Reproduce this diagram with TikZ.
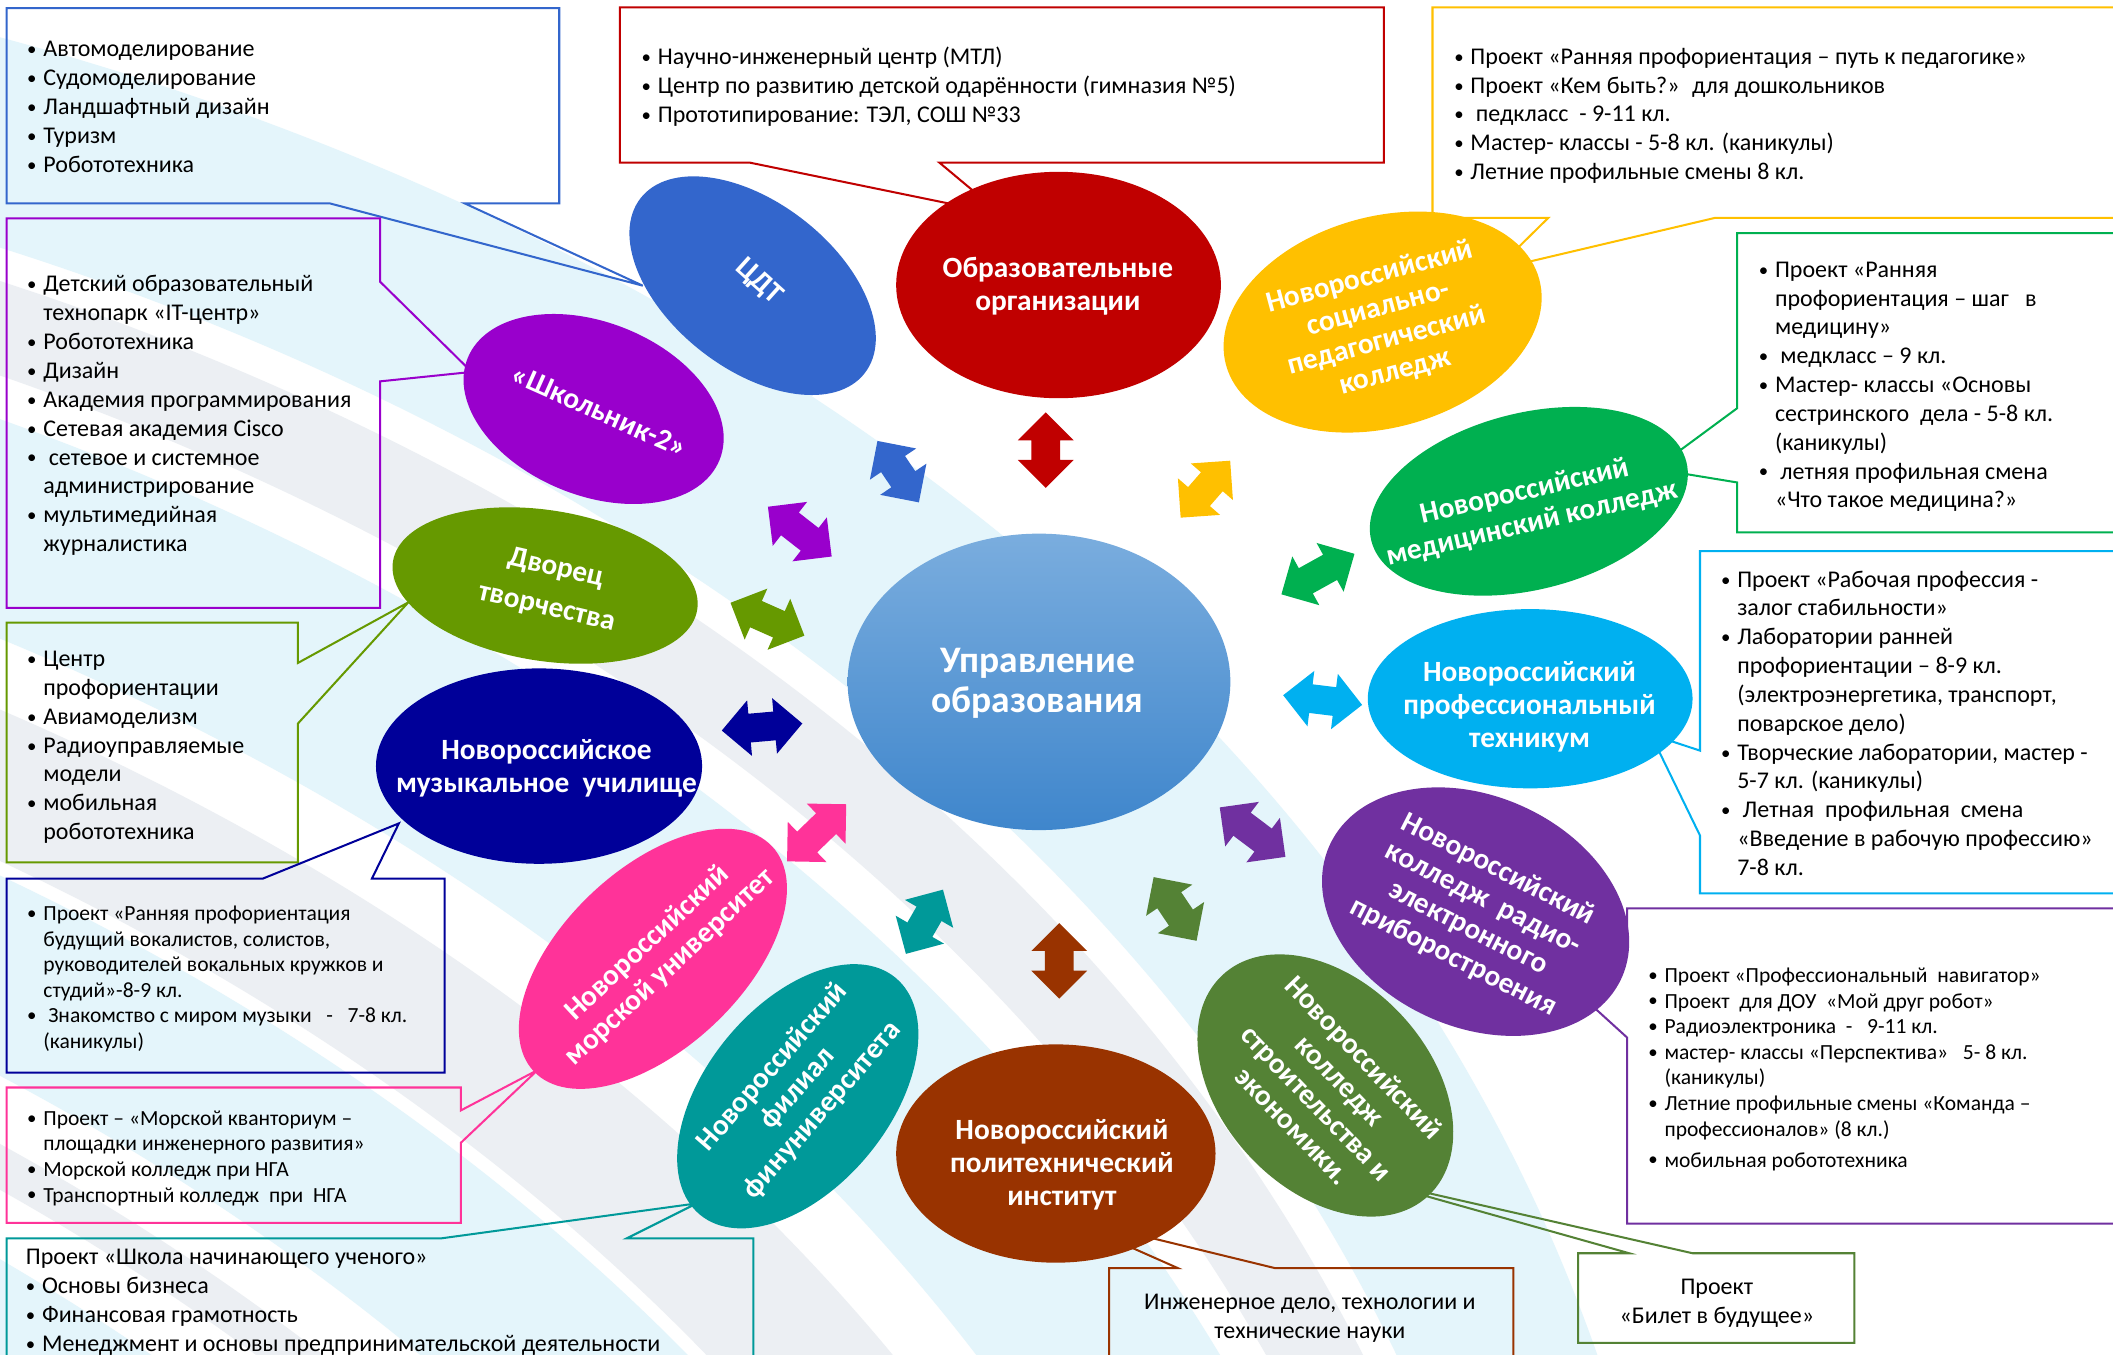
\documentclass[tikz,border=0pt]{standalone}
\usepackage{fontspec}
\setmainfont{Carlito}
\usetikzlibrary{shapes.geometric,shapes.arrows}
\definecolor{cA}{HTML}{3366CC}\definecolor{cB}{HTML}{9900CC}\definecolor{cC}{HTML}{669900}
\definecolor{cD}{HTML}{000099}\definecolor{cE}{HTML}{FF3399}\definecolor{cF}{HTML}{009999}
\definecolor{cG}{HTML}{993300}\definecolor{cH}{HTML}{548235}\definecolor{cI}{HTML}{7030A0}
\definecolor{cJ}{HTML}{00B0F0}\definecolor{cK}{HTML}{00B050}\definecolor{cL}{HTML}{FFC000}
\definecolor{cM}{HTML}{C00000}
\definecolor{paleb}{HTML}{E4F5FB}\definecolor{paleg}{HTML}{ECEFF3}
\definecolor{uprtop}{HTML}{7AADDE}\definecolor{uprbot}{HTML}{3F86CC}
\tikzset{
  callout/.style={line width=1.5pt,line join=miter,fill=none},
  listtext/.style={anchor=north west,inner sep=0pt,align=left,text=black,font=\fontsize{17.8}{21.4}\selectfont},
  smalllist/.style={anchor=north west,inner sep=0pt,align=left,text=black,font=\fontsize{16}{19}\selectfont},
  centertext/.style={inner sep=0pt,align=center,text=black,font=\fontsize{17.8}{21.4}\selectfont},
  orbshape/.style={ellipse,inner sep=0pt,draw=none},
  orbtext/.style={inner sep=0pt,align=center,text=white,font=\bfseries\fontsize{21.8}{24.4}\selectfont},
  blockarrow/.style={double arrow,double arrow head extend=10pt,inner sep=0pt,draw=none}
}
\newcommand\bu[1]{\strut\makebox[12pt][l]{\fontsize{14}{14}\selectfont\raisebox{.8pt}{•}}#1}
\newcommand\cu[1]{\strut\hspace*{12pt}#1}
\newcommand\band[3]{\fill[#3]
  ({-300-.6*#1},{-30+.8*#1}) .. controls ({300-.6*#1},{40+.8*#1}) and ({1000-.6*#1},{400+.8*#1}) .. ({1200-.6*#1},{1050+.8*#1})
  -- ({1200-.6*#2},{1050+.8*#2}) .. controls ({1000-.6*#2},{400+.8*#2}) and ({300-.6*#2},{40+.8*#2}) .. ({-300-.6*#2},{-30+.8*#2}) -- cycle;}
\newcommand\orb[7]{\node[orbshape,fill=#7,minimum width=#4*2pt,minimum height=#5*2pt,rotate=#6] (#1) at (#2,#3) {};}
\newcommand\orbt[5]{\node[orbtext,rotate=#4] (#1) at (#2,#3) {#5};}
\newcommand\barrow[6]{\node[blockarrow,fill=#6,minimum height=#4 pt,rotate=#5] (#1) at (#2,#3) {\rule{0pt}{21pt}};}
\begin{document}
\begin{tikzpicture}[x=1pt,y=-1pt]
\useasboundingbox (0,0) rectangle (1568,1005.5);
\clip (0,0) rectangle (1568,1005.5);
\fill[white] (0,0) rectangle (1568,1005.5);
% background swooshes
\band{0}{160}{paleb}
\band{185}{255}{paleg}
\band{287}{445}{paleb}
\band{495}{600}{paleg}
\band{610}{745}{paleb}
\band{790}{820}{paleg}
\band{865}{960}{paleb}
\band{1010}{1100}{paleb}
% callout tips
\coordinate (tipA) at (477,212);
\coordinate (tipB) at (350,276);
\coordinate (tipC) at (303,447);
\coordinate (tipD) at (296,611);
\coordinate (tipE) at (399,794);
\coordinate (tipF) at (517,893);
\coordinate (tipG) at (786,902);
\coordinate (tipH) at (1010,874);
\coordinate (tipI) at (1180,745);
\coordinate (tipJ) at (1225,545);
\coordinate (tipK) at (1228,348);
\coordinate (tipL) at (1110,200);
\coordinate (tipM) at (743,159);
% callouts
\draw[callout,cA] (5,6) -- (415,6) -- (415,151) -- (345,151) -- (tipA) -- (245,151) -- (5,151) -- cycle;
\draw[callout,cB] (5,162) -- (282,162) -- (282,209) -- (tipB) -- (282,283) -- (282,451) -- (5,451) -- cycle;
\draw[callout,cC] (5,462) -- (221,462) -- (221,492) -- (tipC) -- (221,537) -- (221,640) -- (5,640) -- cycle;
\draw[callout,cD] (5,652) -- (195,652) -- (tipD) -- (276,652) -- (330,652) -- (330,796) -- (5,796) -- cycle;
\draw[callout,cE] (5,807) -- (342,807) -- (342,824) -- (tipE) -- (342,848) -- (342,907.5) -- (5,907.5) -- cycle;
\draw[callout,cF] (5,1040) -- (5,919) -- (327,919) -- (tipF) -- (465,919) -- (559,919) -- (559,1040);
\draw[callout,cG] (823,1040) -- (823,941) -- (874,941) -- (tipG) -- (946,941) -- (1123,941) -- (1123,1040);
\draw[callout,cH] (1171,930) -- (1209,930) -- (tipH) -- (1256,930) -- (1376,930) -- (1376,996.5) -- (1171,996.5) -- cycle;
\draw[callout,cI] (1600,674) -- (1207.5,674) -- (1207.5,700) -- (tipI) -- (1207.5,770) -- (1207.5,908) -- (1600,908);
\draw[callout,cJ] (1600,409) -- (1261.5,409) -- (1261.5,557) -- (tipJ) -- (1261.5,620) -- (1261.5,663) -- (1600,663);
\draw[callout,cK] (1600,173) -- (1289,173) -- (1289,303) -- (tipK) -- (1289,358) -- (1289,395) -- (1600,395);
\draw[callout,cL] (1600,5.5) -- (1063,5.5) -- (1063,161.6) -- (1149,161.6) -- (tipL) -- (1273,161.6) -- (1600,161.6);
\draw[callout,cM] (460,5.5) -- (1027,5.5) -- (1027,120.6) -- (697,120.6) -- (tipM) -- (556,120.6) -- (460,120.6) -- cycle;
% ellipses
\orb{cdt}{558.5}{212}{105.5}{61.7}{-38}{cA}
\orb{shk}{440.5}{303.5}{100.8}{64.2}{-22}{cB}
\orb{dvo}{404.5}{434.5}{114.3}{55.9}{-9}{cC}
\orb{muz}{400}{568.5}{121}{72.5}{0}{cD}
\orb{mor}{484.5}{711.5}{121.6}{66.5}{43.4}{cE}
\orb{fil}{592}{813.5}{114}{68}{50.5}{cF}
\orb{pol}{783.5}{856}{118.5}{81}{0}{cG}
\orb{str}{983.5}{805.5}{112}{77}{-47}{cH}
\orb{rad}{1095}{676.5}{119}{85.6}{-24.5}{cI}
\orb{teh}{1135.5}{518.5}{120.5}{66.5}{0}{cJ}
\orb{med}{1134.5}{372}{120.5}{65.6}{14}{cK}
\orb{soc}{1026}{239}{120.5}{78.3}{15.4}{cL}
\orb{obr}{785.5}{211.5}{120.5}{84}{0}{cM}
\node[ellipse,inner sep=0pt,minimum width=284pt,minimum height=220pt,top color=uprtop,bottom color=uprbot,draw=none] (upr) at (771,506) {};
% ellipse texts
\orbt{cdt-t}{563}{209}{-42}{ЦДТ}
\orbt{shk-t}{445}{305}{-24}{«Школьник-2»}
\node[orbtext,rotate=-13,font=\bfseries\fontsize{21.8}{30}\selectfont] (dvo-t) at (409,436.5) {Дворец\\творчества};
\orbt{muz-t}{405.5}{570}{0}{Новороссийское\\музыкальное~~училище}
\orbt{mor-t}{489}{709}{43}{Новороссийский\\морской университет}
\orbt{fil-t}{592}{808}{49}{Новороссийский\\филиал\\финуниверситета}
\orbt{pol-t}{788}{864.5}{0}{Новороссийский\\политехнический\\институт}
\orbt{str-t}{986}{810}{-46}{Новороссийский\\колледж\\строительства и\\экономики.}
\orbt{rad-t}{1095}{678}{-27}{Новороссийский\\колледж~~радио-\\электронного\\приборостроения}
\orbt{teh-t}{1135}{524.5}{0}{Новороссийский\\профессиональный\\техникум}
\orbt{med-t}{1134}{377}{13}{Новороссийский\\медицинский колледж}
\orbt{soc-t}{1026}{241}{15}{Новороссийский\\социально-\\педагогический\\колледж}
\orbt{obr-t}{785}{212.5}{0}{Образовательные\\организации}
\node[inner sep=0pt,align=center,text=white,font=\bfseries\fontsize{27.8}{30}\selectfont] (upr-t) at (770,507) {Управление\\образования};
% block arrows
\barrow{arA}{666.5}{350}{55}{-56}{cA}
\barrow{arB}{593.5}{394.5}{60}{-38}{cB}
\barrow{arC}{569.5}{459.5}{60}{-24}{cC}
\barrow{arD}{565.5}{539.5}{60}{5}{cD}
\barrow{arE}{606}{618}{61}{44}{cE}
\barrow{arF}{686}{684}{55}{60}{cF}
\barrow{arG}{786}{713}{56}{-90}{cG}
\barrow{arH}{872}{674.5}{57}{-56}{cH}
\barrow{arI}{929.5}{617.5}{61}{-37}{cI}
\barrow{arJ}{981.5}{519.5}{59}{-7}{cJ}
\barrow{arK}{978}{426}{62}{29}{cK}
\barrow{arL}{894.5}{363}{56}{49}{cL}
\barrow{arM}{776}{334}{56}{90}{cM}
% list texts
\node[listtext] (tA) at (20,27) {\bu{Автомоделирование}\\\bu{Судомоделирование}\\\bu{Ландшафтный дизайн}\\\bu{Туризм}\\\bu{Робототехника}};
\node[listtext] (tB) at (20,201.5) {\bu{Детский образовательный}\\\cu{технопарк «IT-центр»}\\\bu{Робототехника}\\\bu{Дизайн}\\\bu{Академия программирования}\\\bu{Сетевая академия Cisco}\\\bu{~сетевое и системное}\\\cu{администрирование}\\\bu{мультимедийная}\\\cu{журналистика}};
\node[listtext] (tC) at (20,479.5) {\bu{Центр}\\\cu{профориентации}\\\bu{Авиамоделизм}\\\bu{Радиоуправляемые}\\\cu{модели}\\\bu{мобильная}\\\cu{робототехника}};
\node[smalllist] (tD) at (20,669.5) {\bu{Проект «Ранняя профориентация}\\\cu{будущий вокалистов, солистов,}\\\cu{руководителей вокальных кружков и}\\\cu{студий»-8-9 кл.}\\\bu{~Знакомство с миром музыки~~ -~~ 7-8 кл.}\\\cu{(каникулы)}};
\node[smalllist] (tE) at (20,821.5) {\bu{Проект – «Морской кванториум –}\\\cu{площадки инженерного развития»}\\\bu{Морской колледж при НГА}\\\bu{Транспортный колледж~ при~ НГА}};
\node[listtext] (tF) at (19,923.5) {\strut Проект «Школа начинающего ученого»\\\bu{Основы бизнеса}\\\bu{Финансовая грамотность}\\\bu{Менеджмент и основы предпринимательской деятельности}};
\node[centertext] (tG) at (972,978) {\strut Инженерное дело, технологии и\\\strut технические науки};
\node[centertext] (tH) at (1274,967) {\strut Проект\\\strut «Билет в будущее»};
\node[smalllist] (tI) at (1223,715.5) {\bu{Проект «Профессиональный~ навигатор»}\\\bu{Проект~ для ДОУ~ «Мой друг робот»}\\\bu{Радиоэлектроника~ -~~ 9-11 кл.}\\\bu{мастер- классы «Перспектива»~~ 5- 8 кл.}\\\cu{(каникулы)}\\\bu{Летние профильные смены «Команда –}\\\cu{профессионалов» (8 кл.)}\\[4pt]\bu{мобильная робототехника}};
\node[listtext] (tJ) at (1277,420.5) {\bu{Проект «Рабочая профессия -}\\\cu{залог стабильности»}\\\bu{Лаборатории ранней}\\\cu{профориентации – 8-9 кл.}\\\cu{(электроэнергетика, транспорт,}\\\cu{поварское дело)}\\\bu{Творческие лаборатории, мастер -}\\\cu{5-7 кл. (каникулы)}\\\bu{~Летная~ профильная~ смена}\\\cu{«Введение в рабочую профессию»}\\\cu{7-8 кл.}};
\node[listtext] (tK) at (1305,190.5) {\bu{Проект «Ранняя}\\\cu{профориентация – шаг~~ в}\\\cu{медицину»}\\\bu{~медкласс – 9 кл.}\\\bu{Мастер- классы «Основы}\\\cu{сестринского~ дела - 5-8 кл.}\\\cu{(каникулы)}\\\bu{~летняя профильная смена}\\\cu{«Что такое медицина?»}};
\node[listtext] (tL) at (1079,32.5) {\bu{Проект «Ранняя профориентация – путь к педагогике»}\\\bu{Проект «Кем быть?»~ для дошкольников}\\\bu{~педкласс~ - 9-11 кл.}\\\bu{Мастер- классы - 5-8 кл. (каникулы)}\\\bu{Летние профильные смены 8 кл.}};
\node[listtext] (tM) at (476,33) {\bu{Научно-инженерный центр (МТЛ)}\\\bu{Центр по развитию детской одарённости (гимназия №5)}\\\bu{Прототипирование: ТЭЛ, СОШ №33}};
\end{tikzpicture}
\end{document}
